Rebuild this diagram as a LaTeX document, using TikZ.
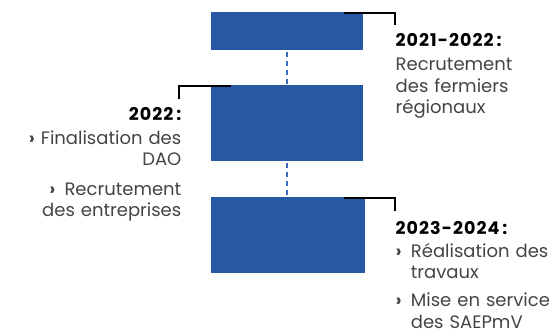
\documentclass[tikz,border=0pt]{standalone}
\usepackage{fontspec}
\setmainfont{Poppins}
\usetikzlibrary{calc}
\definecolor{boxblue}{HTML}{2858A4}
\definecolor{dashblue}{HTML}{3B6CBF}
\definecolor{txt}{HTML}{444444}
\tikzset{
 box/.style={fill=boxblue, draw=none, minimum width=152pt, inner sep=0pt, anchor=north west},
 link/.style={dashblue, line width=2pt, dash pattern=on 5pt off 4pt},
 brk/.style={black, line width=2pt, line join=miter},
 hd/.style={font=\fontsize{17.5}{20}\selectfont\bfseries\addfontfeatures{LetterSpace=6}, text=black, inner sep=0pt},
 body/.style={font=\fontsize{18}{21.5}\selectfont, text=txt, inner sep=0pt},
}
\begin{document}
\begin{tikzpicture}[x=1pt,y=-1pt]
\useasboundingbox (0,0) rectangle (550,332);
% boxes
\node[box, minimum height=38pt] (b1) at (211,12) {};
\node[box, minimum height=76pt] (b2) at (211,85) {};
\node[box, minimum height=76pt, minimum width=154pt] (b3) at (211,196.7) {};
% dashed links
\draw[link] ($(b1.south)+(0,2)$) -- ($(b2.north)+(0,-1)$);
\draw[link] ($(b2.south)+(0,2)$) -- ($(b3.north)+(-1,-1)$);
% brackets
\coordinate (k1) at (395,12.7);
\draw[brk] ($(b1.north east)+(-19,0.7)$) -- (k1) -- ++(0,12.5);
\coordinate (k2) at (179,85.5);
\draw[brk] ($(b2.north west)+(20,0.5)$) -- (k2) -- ++(0,13.5);
\coordinate (k3) at (395,197.7);
\draw[brk] ($(b3.north east)+(-21,1)$) -- (k3) -- ++(0,13.5);
% texts block 1
\node[hd, anchor=base west] (h1) at (395.5,46.7) {2021-2022\,:};
\node[body, anchor=base west, text width=150pt, align=left] (t1) at (395.5,70.7) {Recrutement\\des fermiers\\régionaux};
% block 2
\node[hd, anchor=base east] (h2) at (181.5,120) {2022\,:};
\node[body, anchor=base east, text width=180pt, align=right] (t2a) at (181.5,144) {\textbf{›} Finalisation des\\DAO};
\node[body, anchor=base east, text width=180pt, align=right] (t2b) at (181.5,195) {\textbf{›}\enspace Recrutement\\des entreprises};
% block 3
\node[hd, anchor=base west] (h3) at (395.5,234) {2023-2024\,:};
\node[body, anchor=base west] (u1) at (395.5,257.3) {\textbf{›}};
\node[body, anchor=base west, text width=140pt, align=left] (t3a) at (410.7,257.3) {Réalisation des\\travaux};
\node[body, anchor=base west] (u2) at (395.5,306.7) {\textbf{›}};
\node[body, anchor=base west, text width=140pt, align=left] (t3b) at (410.7,306.7) {Mise en service\\des SAEPmV};
\end{tikzpicture}
\end{document}
